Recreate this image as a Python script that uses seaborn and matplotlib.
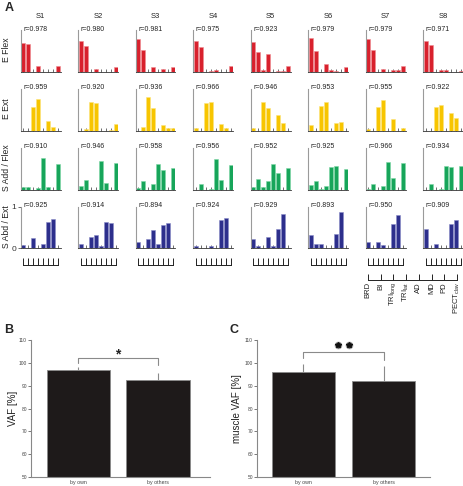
import numpy as np
import pandas as pd
import matplotlib
matplotlib.use("Agg")
import matplotlib.pyplot as plt
import seaborn as sns

sns.set_style("ticks")
plt.rcParams["font.family"] = ["Liberation Sans", "DejaVu Sans"]
plt.rcParams["mathtext.fontset"] = "custom"
plt.rcParams["mathtext.rm"] = "Liberation Sans"

# ---------------- data ----------------
muscles = ["BRD", "BI", "TRIlong", "TRIlat", "AD", "MD", "PD", "PECTclav"]
muscle_labels = ["BRD", "BI", r"TRI$_{\mathregular{long}}$", r"TRI$_{\mathregular{lat}}$",
                 "AD", "MD", "PD", r"PECT$_{\mathregular{clav}}$"]
subjects = ["S1", "S2", "S3", "S4", "S5", "S6", "S7", "S8"]
synergy_names = ["E Flex", "E Ext", "S Add / Flex", "S Abd / Ext"]
synergy_colors = ["#d8212d", "#f7c500", "#17a55a", "#2d2f8c"]
synergy_edges = ["#f08a90", "#fde37a", "#7fd8a5", "#8a8cc8"]

r_e_flex = [0.978, 0.980, 0.981, 0.975, 0.923, 0.979, 0.979, 0.971]
r_e_ext = [0.959, 0.920, 0.936, 0.966, 0.946, 0.953, 0.955, 0.922]
r_s_add_flex = [0.910, 0.946, 0.958, 0.956, 0.952, 0.925, 0.966, 0.934]
r_s_abd_ext = [0.925, 0.914, 0.894, 0.924, 0.929, 0.893, 0.950, 0.909]

w_e_flex = [
    [0.69, 0.66, 0.00, 0.14, 0.00, 0.00, 0.00, 0.14],
    [0.74, 0.62, 0.00, 0.06, 0.00, 0.00, 0.00, 0.12],
    [0.79, 0.52, 0.00, 0.12, 0.00, 0.07, 0.00, 0.12],
    [0.74, 0.59, 0.00, 0.02, 0.05, 0.00, 0.00, 0.15],
    [0.71, 0.47, 0.05, 0.44, 0.00, 0.03, 0.02, 0.14],
    [0.81, 0.50, 0.00, 0.19, 0.05, 0.02, 0.00, 0.12],
    [0.79, 0.53, 0.00, 0.08, 0.00, 0.04, 0.04, 0.15],
    [0.74, 0.64, 0.00, 0.05, 0.05, 0.00, 0.00, 0.02],
]
w_e_ext = [
    [0.00, 0.00, 0.55, 0.75, 0.00, 0.22, 0.08, 0.00],
    [0.00, 0.04, 0.69, 0.66, 0.00, 0.00, 0.02, 0.16],
    [0.00, 0.09, 0.79, 0.54, 0.00, 0.13, 0.05, 0.05],
    [0.05, 0.00, 0.66, 0.68, 0.00, 0.16, 0.05, 0.00],
    [0.07, 0.00, 0.68, 0.54, 0.00, 0.37, 0.17, 0.00],
    [0.14, 0.00, 0.59, 0.69, 0.00, 0.17, 0.20, 0.00],
    [0.03, 0.00, 0.56, 0.73, 0.00, 0.28, 0.00, 0.05],
    [0.00, 0.00, 0.55, 0.60, 0.00, 0.41, 0.29, 0.00],
]
w_s_add_flex = [
    [0.07, 0.07, 0.00, 0.03, 0.74, 0.05, 0.00, 0.61],
    [0.08, 0.23, 0.00, 0.00, 0.68, 0.16, 0.00, 0.62],
    [0.03, 0.21, 0.00, 0.13, 0.61, 0.46, 0.00, 0.52],
    [0.00, 0.12, 0.00, 0.01, 0.72, 0.23, 0.00, 0.59],
    [0.05, 0.25, 0.06, 0.21, 0.61, 0.39, 0.00, 0.52],
    [0.10, 0.21, 0.01, 0.09, 0.53, 0.57, 0.00, 0.48],
    [0.01, 0.14, 0.00, 0.09, 0.65, 0.27, 0.00, 0.63],
    [0.00, 0.12, 0.00, 0.01, 0.56, 0.54, 0.00, 0.56],
]
w_s_abd_ext = [
    [0.08, 0.00, 0.24, 0.00, 0.11, 0.63, 0.71, 0.00],
    [0.11, 0.00, 0.27, 0.32, 0.07, 0.63, 0.60, 0.00],
    [0.16, 0.00, 0.22, 0.45, 0.10, 0.55, 0.60, 0.00],
    [0.06, 0.02, 0.00, 0.05, 0.00, 0.68, 0.72, 0.00],
    [0.22, 0.06, 0.02, 0.28, 0.06, 0.46, 0.82, 0.00],
    [0.33, 0.11, 0.11, 0.00, 0.02, 0.34, 0.88, 0.00],
    [0.15, 0.00, 0.15, 0.09, 0.00, 0.59, 0.79, 0.00],
    [0.46, 0.00, 0.10, 0.00, 0.01, 0.59, 0.68, 0.00],
]

groups = ["by own", "by others"]
vaf_mean = [96.8, 92.6]
vaf_err = [1.4, 2.9]
muscle_vaf_mean = [96.0, 92.2]
muscle_vaf_err = [3.4, 6.4]

r_rows = [r_e_flex, r_e_ext, r_s_add_flex, r_s_abd_ext]
w_rows = [w_e_flex, w_e_ext, w_s_add_flex, w_s_abd_ext]

# ---------------- figure ----------------
W, H = 464, 486
fig = plt.figure(figsize=(W / 100, H / 100), dpi=100)


def box(x, y_top, w, h):
    return [x / W, 1 - (y_top + h) / H, w / W, h / H]


col_x = [21 + 57.5 * i for i in range(8)]
row_top = [30, 88.5, 147.5, 206.5]
pw, ph = 39.5, 42

for ri in range(4):
    for ci in range(8):
        ax = fig.add_axes(box(col_x[ci], row_top[ri], pw, ph))
        vals = w_rows[ri][ci]
        df = pd.DataFrame({"muscle": muscles, "w": vals})
        sns.barplot(data=df, x="muscle", y="w", order=muscles, color=synergy_colors[ri],
                    saturation=1, width=0.82, edgecolor=synergy_edges[ri], linewidth=0.4, ax=ax)
        ax.set_xlim(-0.5, 7.5)
        ax.set_ylim(0, 1)
        ax.set_xlabel("")
        ax.set_ylabel("")
        ax.set_xticks(range(8))
        ax.set_xticklabels([])
        ax.tick_params(axis="x", direction="in", length=2.2, width=0.5, colors="#333333")
        for s in ["top", "right"]:
            ax.spines[s].set_visible(False)
        ax.spines["left"].set_color("#9a9a9a")
        ax.spines["left"].set_linewidth(0.8)
        ax.spines["bottom"].set_color("#333333")
        ax.spines["bottom"].set_linewidth(0.6)
        if ri == 3 and ci == 0:
            ax.set_yticks([0, 1])
            ax.set_yticklabels(["0", "1"], fontsize=6)
            ax.tick_params(axis="y", length=2, width=0.5, pad=1.5, colors="#333333")
        else:
            ax.set_yticks([])
        ax.text(0.06, 1.02, f"r={r_rows[ri][ci]:.3f}", transform=ax.transAxes,
                fontsize=5, va="center", ha="left", color="#222222")
        if ri == 0:
            ax.text(0.5, 1.32, subjects[ci], transform=ax.transAxes, fontsize=5.5,
                    ha="center", va="center", color="#222222")
        if ci == 0:
            fig.text(7 / W, 1 - (row_top[ri] + ph / 2 - 1) / H, synergy_names[ri],
                     rotation=90, fontsize=6.2, ha="center", va="center", color="#222222")

# tick combs below last row
for ci in range(8):
    axc = fig.add_axes(box(col_x[ci], 255, pw, 10))
    axc.set_xlim(-0.5, 7.5)
    axc.set_ylim(0, 1)
    axc.set_xticks(range(8))
    axc.set_xticklabels([])
    axc.set_yticks([])
    for s in ["top", "right", "left"]:
        axc.spines[s].set_visible(False)
    axc.spines["bottom"].set_bounds(0, 7)
    axc.spines["bottom"].set_linewidth(0.7)
    axc.spines["bottom"].set_color("#222222")
    axc.tick_params(axis="x", direction="in", length=5, width=0.7, colors="#222222")
    axc.patch.set_visible(False)

# muscle label axis under S7
axm = fig.add_axes(box(368, 270, 89, 9.5))
axm.set_xlim(0, 7)
axm.set_ylim(0, 1)
axm.set_xticks(range(8))
axm.set_xticklabels(muscle_labels, rotation=90, fontsize=5.5, color="#222222")
axm.set_yticks([])
for s in ["top", "right", "left"]:
    axm.spines[s].set_visible(False)
axm.spines["bottom"].set_linewidth(0.7)
axm.spines["bottom"].set_color("#222222")
axm.tick_params(axis="x", direction="in", length=4, width=0.7, pad=2, colors="#222222",
                labelcolor="#222222")
axm.patch.set_visible(False)


# ---------------- panels B and C ----------------
def vaf_panel(rect, means, errs, ylabel, label_x, xlim, bracket):
    ax = fig.add_axes(rect)
    df = pd.DataFrame({"group": groups, "vaf": means})
    sns.barplot(data=df, x="group", y="vaf", order=groups, color="#1e1a1a", saturation=1,
                width=0.79, edgecolor="#8a8a8a", linewidth=0.6, ax=ax)
    ax.errorbar([0, 1], means, yerr=[[0, 0], errs], fmt="none", ecolor="#8a8a8a",
                elinewidth=0.8, capsize=0)
    ax.set_ylim(50, 110)
    ax.set_xlim(*xlim)
    ax.set_yticks(range(50, 111, 10))
    ax.tick_params(axis="y", labelsize=3.5, length=2, width=0.5, pad=1, colors="#444444")
    ax.tick_params(axis="x", labelsize=3.8, length=0, pad=2, colors="#444444")
    ax.set_xlabel("")
    ax.set_ylabel(ylabel, fontsize=7, color="#222222")
    ax.yaxis.set_label_coords(label_x, 0.5)
    for s in ["top", "right"]:
        ax.spines[s].set_visible(False)
    for s in ["left", "bottom"]:
        ax.spines[s].set_color("#888888")
        ax.spines[s].set_linewidth(0.8)
    ax.plot([0, 0, 1, 1], bracket, color="#8a8a8a", lw=0.8, clip_on=False)
    return ax


axB = vaf_panel(box(31, 340, 179, 137), vaf_mean, vaf_err, "VAF [%]", -0.075, (-0.59, 1.65),
                [99.9, 102.1, 102.1, 99.0])
axB.text(0.5, 103.6, "*", ha="center", va="center", fontsize=10, fontweight="bold",
         color="#222222")

axC = vaf_panel(box(257, 340, 173, 137), muscle_vaf_mean, muscle_vaf_err, "muscle VAF [%]",
                -0.085, (-0.58, 1.58), [102.0, 104.7, 104.7, 101.2])
for sx in (0.43, 0.57):
    axC.plot(sx, 108.0, marker="o", markersize=5, markerfacecolor="#3a3a3a",
             markeredgecolor="#bbbbbb", markeredgewidth=0.6, clip_on=False)
    axC.plot(sx, 108.0, marker="*", markersize=4, color="#111111", clip_on=False)

fig.text(5 / W, 1 - 8 / H, "A", fontsize=9, fontweight="bold", ha="left", va="center")
fig.text(4 / W, 1 - 330 / H, "B", fontsize=9, fontweight="bold", ha="left", va="center")
fig.text(230 / W, 1 - 330 / H, "C", fontsize=9, fontweight="bold", ha="left", va="center")

fig.savefig("out.png", dpi=100)
